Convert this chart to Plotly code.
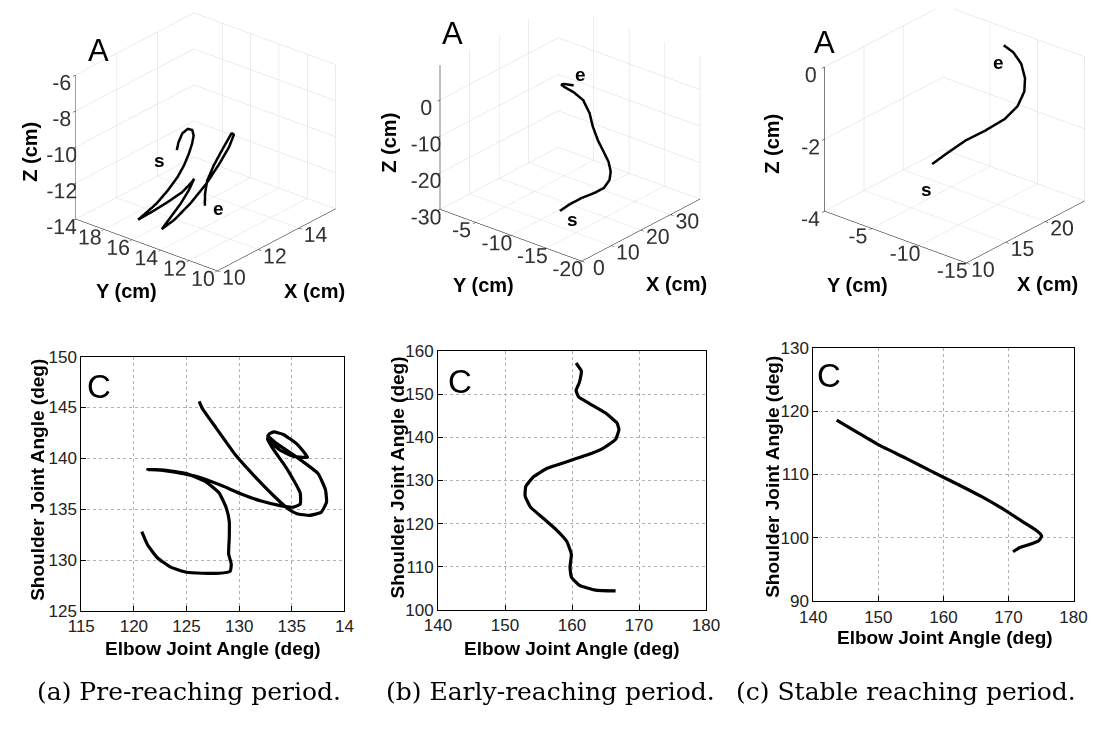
import plotly.graph_objects as go

# ---------------- 3-D hand trajectories (cm) ----------------
pre_x3 = [12.5, 12.6, 12.7, 12.8, 12.9, 12.9, 12.8, 12.6, 12.3, 12.0, 11.6, 11.1, 10.7, 10.5,
          10.9, 11.4, 11.9, 12.2, 12.3, 12.0, 11.6, 11.1, 10.5, 11.0, 11.7, 12.4, 13.0, 13.4,
          13.6, 13.6, 13.4, 13.2, 13.0, 12.9, 12.8]
pre_y3 = [16.46, 16.49, 16.36, 16.12, 15.94, 15.85, 15.82, 15.76, 15.67, 15.70, 15.80, 15.88,
          16.10, 16.31, 15.93, 15.52, 15.22, 14.97, 14.95, 14.90, 14.89, 14.86, 14.64, 14.49,
          14.36, 14.23, 14.18, 14.07, 14.01, 14.18, 14.52, 14.87, 15.04, 15.05, 14.91]
pre_z3 = [-10.64, -10.28, -9.80, -9.54, -9.61, -9.90, -10.29, -10.71, -11.15, -11.63, -12.15,
          -12.61, -12.99, -13.27, -12.97, -12.60, -12.26, -11.81, -11.68, -12.13, -12.62, -13.05,
          -13.31, -13.06, -12.53, -11.80, -11.04, -10.32, -9.72, -9.70, -10.55, -11.46, -12.23,
          -12.92, -13.46]

early_x3 = [5, 7, 9, 11, 13, 14, 15, 16, 17, 18, 19, 20, 21, 22, 23, 24, 25, 27]
early_y3 = [-14.83, -15.33, -16.26, -17.21, -17.70, -18.08, -17.83, -17.11, -16.02, -14.80,
            -13.62, -12.76, -11.45, -9.69, -7.94, -7.08, -7.10, -7.59]
early_z3 = [-22.03, -20.76, -19.14, -17.96, -17.13, -15.04, -13.38, -11.65, -10.19, -8.39,
            -5.64, -3.08, -0.89, -0.39, -0.60, -0.96, -1.23, -2.12]

stable_x3 = [12.0, 13.0, 14.5, 16.0, 17.5, 19.0, 20.5, 21.5, 22.2, 22.6, 22.8]
stable_y3 = [-9.72, -10.33, -11.15, -11.97, -12.79, -12.92, -12.38, -11.62, -10.64, -9.46, -8.28]
stable_z3 = [-1.99, -1.77, -1.49, -1.31, -1.08, -0.88, -0.70, -0.52, -0.29, -0.13, -0.07]

# start / end markers (x, y, z)
pre_s, pre_e = (12.5, 17.66, -11.56), (12.8, 13.96, -13.36)
early_s, early_e = (5, -16.61, -22.99), (27, -8.62, 1.57)
stable_s, stable_e = (12, -9.1, -2.75), (22, -8.42, -0.45)

# axis ranges and ticks of the 3-D panels
pre_ranges = dict(x=[10, 15.8], y=[10, 20], z=[-14, -6])
pre_ticks = dict(x=[10, 12, 14], y=[10, 12, 14, 16, 18], z=[-14, -12, -10, -8, -6])
early_ranges = dict(x=[0, 40], y=[-20, 0], z=[-30, 9.5])
early_ticks = dict(x=[0, 10, 20, 30], y=[-20, -15, -10, -5], z=[-30, -20, -10, 0])
stable_ranges = dict(x=[10, 25], y=[-15, 0], z=[-4, 0])
stable_ticks = dict(x=[10, 15, 20], y=[-15, -10, -5], z=[-4, -2, 0])

# ---------------- joint-angle trajectories (deg) ----------------
pre_elbow = [120.75, 121.3, 122.2, 123.5, 125.0, 126.5, 128.1, 129.15, 129.25, 129.0, 129.06,
             129.06, 128.75, 128.1, 126.85, 125.0, 122.85, 121.3, 122.9, 124.7, 126.5, 128.4,
             130.2, 132.1, 133.9, 135.15, 135.8, 135.8, 135.15, 134.2, 133.3, 132.7, 132.85,
             133.3, 134.2, 135.5, 136.5, 136.1, 135.15, 133.9, 133.0, 132.7, 133.5, 135.5,
             137.5, 138.2, 138.3, 137.8, 136.7, 135.5, 134.7, 133.3, 131.5, 129.6, 127.8,
             126.5, 126.2]
pre_shoulder = [132.8, 131.5, 130.25, 129.3, 128.8, 128.7, 128.7, 128.9, 129.6, 130.6, 132.2,
                133.8, 135.2, 136.6, 137.7, 138.5, 138.85, 138.9, 138.8, 138.5, 138.05, 137.3,
                136.5, 135.8, 135.35, 135.2, 135.5, 136.6, 137.9, 139.5, 140.8, 141.9, 142.4,
                142.6, 142.35, 141.4, 140.1, 140.1, 140.2, 140.8, 141.6, 142.2, 141.5, 140.1,
                138.5, 136.9, 135.7, 134.7, 134.4, 134.55, 135.0, 136.3, 138.2, 140.4, 143.0,
                144.9, 145.6]

early_elbow = [160.6, 161.4, 161.1, 160.6, 161.0, 162.6, 165.0, 166.7, 167.0, 166.5, 164.5,
               162.1, 159.2, 156.3, 154.3, 153.1, 153.0, 153.8, 155.8, 157.7, 159.2, 159.9,
               159.7, 159.9, 161.1, 163.5, 166.5]
early_shoulder = [157.2, 155.3, 152.7, 150.8, 149.3, 147.8, 145.6, 143.3, 141.8, 139.5, 137.3,
                  135.8, 134.3, 132.8, 130.9, 128.6, 126.4, 123.8, 121.1, 118.5, 115.9, 112.9,
                  109.9, 107.6, 105.7, 104.6, 104.4]

stable_elbow = [143.6, 146.7, 150.2, 154.2, 158.2, 162.1, 166.1, 169.1, 172.1, 174.1, 175.1,
                174.6, 173.1, 171.6, 170.7]
stable_shoulder = [118.6, 116.7, 114.6, 112.6, 110.5, 108.5, 106.4, 104.6, 102.6, 101.3, 100.3,
                   99.5, 98.9, 98.4, 97.8]

pre_elbow_ticks = [115, 120, 125, 130, 135, 140]
pre_elbow_ticktext = ["115", "120", "125", "130", "135", "14"]
pre_shoulder_ticks = [125, 130, 135, 140, 145, 150]
early_elbow_ticks = [140, 150, 160, 170, 180]
early_shoulder_ticks = [100, 110, 120, 130, 140, 150, 160]
stable_elbow_ticks = [140, 150, 160, 170, 180]
stable_shoulder_ticks = [90, 100, 110, 120, 130]

captions = ["(a) Pre-reaching period.", "(b) Early-reaching period.", "(c) Stable reaching period."]

W, H = 1108, 729
SANS = "Liberation Sans, Arial, sans-serif"
SERIF = "DejaVu Serif, serif"


def px(x):
    return x / W


def py(y):
    return 1 - y / H


fig = go.Figure()

# ---------------- 3-D panels ----------------
# viewport (left, right) in px, box lift (scene units) and sideways slide (px)
panels3d = [
    ("scene", pre_x3, pre_y3, pre_z3, pre_s, pre_e, pre_ranges, pre_ticks, (0, 405), 0.10, 6),
    ("scene2", early_x3, early_y3, early_z3, early_s, early_e, early_ranges, early_ticks,
     (405, 737), 0.174, 1),
    ("scene3", stable_x3, stable_y3, stable_z3, stable_s, stable_e, stable_ranges, stable_ticks,
     (790, 1108), 0.16, -16),
]

eye_dir = (-0.690, -0.576, 0.438)
screen_right = (0.641, -0.767, 0.0)
eye_len = 1.8
view_top, view_bottom = 0, 300
px_per_unit = (view_bottom - view_top) / 2

for name, xs, ys, zs, s_pt, e_pt, rng, tks, (vx0, vx1), lift, slide in panels3d:
    fig.add_trace(go.Scatter3d(x=xs, y=ys, z=zs, mode="lines",
                               line=dict(color="black", width=5),
                               showlegend=False, hoverinfo="skip", scene=name))

    def ax3(key):
        return dict(range=rng[key], tickmode="array", tickvals=tks[key],
                    ticktext=["%g" % v for v in tks[key]], autorange=False,
                    showgrid=True, gridcolor="#d9d9d9", gridwidth=1,
                    showline=True, linecolor="black", linewidth=1,
                    ticks="outside", tickcolor="black", ticklen=4, tickangle=0,
                    tickfont=dict(family=SANS, size=16, color="#333333"),
                    showbackground=False, zeroline=False, showspikes=False,
                    title=dict(text=""))

    k = slide / px_per_unit
    center = dict(x=screen_right[0] * k, y=screen_right[1] * k, z=-lift)
    fig.update_layout(**{name: dict(
        domain=dict(x=[px(vx0), px(vx1)], y=[py(view_bottom), py(view_top)]),
        xaxis=ax3("x"), yaxis=ax3("y"), zaxis=ax3("z"),
        aspectmode="manual",
        aspectratio=dict(x=1.264, y=1.264, z=1.098),
        camera=dict(eye=dict(x=center["x"] + eye_dir[0] * eye_len,
                             y=center["y"] + eye_dir[1] * eye_len,
                             z=center["z"] + eye_dir[2] * eye_len),
                    up=dict(x=0, y=0, z=1), center=center,
                    projection=dict(type="orthographic")),
        bgcolor="white",
        annotations=[
            dict(x=s_pt[0], y=s_pt[1], z=s_pt[2], text="<b>s</b>", showarrow=False,
                 font=dict(family=SANS, size=19, color="black")),
            dict(x=e_pt[0], y=e_pt[1], z=e_pt[2], text="<b>e</b>", showarrow=False,
                 font=dict(family=SANS, size=19, color="black")),
        ],
    )})

# ---------------- 2-D joint-angle panels ----------------
panels2d = [
    ("", pre_elbow, pre_shoulder, [115, 140], [125, 150], pre_elbow_ticks, pre_elbow_ticktext,
     pre_shoulder_ticks, (69, 339), (357, 618)),
    ("2", early_elbow, early_shoulder, [140, 180], [100, 160], early_elbow_ticks, None,
     early_shoulder_ticks, (435, 710), (351, 617)),
    ("3", stable_elbow, stable_shoulder, [140, 180], [90, 130], stable_elbow_ticks, None,
     stable_shoulder_ticks, (820, 1087), (348, 608)),
]

for sfx, ex, sh, xr, yr, xt, xtt, yt, (x0, x1), (y0, y1) in panels2d:
    fig.add_trace(go.Scatter(x=ex, y=sh, mode="lines", line=dict(color="black", width=3.2,
                                                                 shape="spline", smoothing=0.4),
                             showlegend=False, hoverinfo="skip",
                             xaxis="x" + sfx, yaxis="y" + sfx))
    common = dict(showgrid=True, griddash="dot", gridcolor="#b0b0b0", gridwidth=1,
                  showline=True, mirror=True, linecolor="black", linewidth=1,
                  ticks="inside", ticklen=5, tickcolor="black", zeroline=False,
                  tickfont=dict(family=SANS, size=17, color="#222222"))
    xa = dict(domain=[px(x0), px(x1)], range=xr, tickvals=xt, anchor="y" + sfx, **common)
    if xtt:
        xa["ticktext"] = xtt
    ya = dict(domain=[py(y1), py(y0)], range=yr, tickvals=yt, anchor="x" + sfx, **common)
    fig.update_layout(**{"xaxis" + sfx: xa, "yaxis" + sfx: ya})

# ---------------- text ----------------
ann = []


def label(x, y, text, size, angle=0, family=SANS, bold=True):
    ann.append(dict(x=px(x), y=py(y), xref="paper", yref="paper", showarrow=False,
                    text=("<b>%s</b>" % text) if bold else text, textangle=angle,
                    xanchor="center", yanchor="middle",
                    font=dict(family=family, size=size, color="black")))


# panel letters
for x, y in [(87, 43), (450, 25), (831, 34)]:
    label(x, y, "A", 31, bold=False)
for x, y in [(87, 388), (458, 382), (836, 376)]:
    label(x, y, "C", 33, bold=False)

# 3-D axis titles
for (yx, yy), (xx, xy), (zx, zy) in [((115, 290), (308, 290), (17, 147)),
                                     ((482, 283), (680, 282), (385, 137)),
                                     ((865, 283), (1060, 282), (778, 138))]:
    label(yx, yy, "Y (cm)", 20)
    label(xx, xy, "X (cm)", 20)
    label(zx, zy, "Z (cm)", 20, angle=-90)

# 2-D axis titles
for (xx, xy), (yx, yy) in [((204, 657), (24, 483)), ((572, 657), (393, 481)),
                           ((955, 645), (778, 480))]:
    label(xx, xy, "Elbow Joint Angle (deg)", 19)
    label(yx, yy, "Shoulder Joint Angle (deg)", 19, angle=-90)

# captions
for x, text in zip([180, 550, 915], captions):
    label(x, 701, text, 25, family=SERIF, bold=False)

fig.update_layout(width=W, height=H, autosize=False, margin=dict(l=0, r=0, t=0, b=0),
                  paper_bgcolor="white", plot_bgcolor="white", showlegend=False,
                  annotations=ann)

fig.write_html("out.html")
